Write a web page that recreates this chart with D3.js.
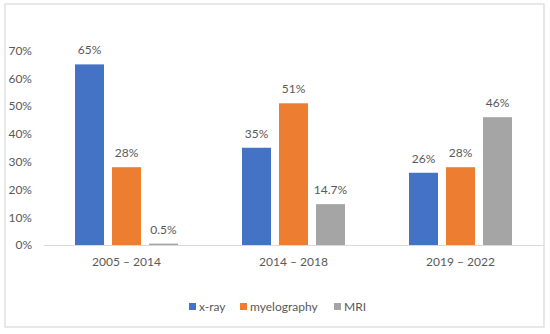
<!DOCTYPE html>
<html>
<head>
<meta charset="utf-8">
<script src="https://cdn.jsdelivr.net/npm/d3@7"></script>
<style>
  html, body { margin: 0; padding: 0; background: #fff; }
  svg text { font-family: Lato, "Open Sans", sans-serif; fill: #595959; }
</style>
</head>
<body>
<div id="chart"></div>
<script>
// grouped bar chart: imaging method share by period

var categories = ['2005 – 2014', '2014 – 2018', '2019 – 2022'];
var series = ['x-ray', 'myelography', 'MRI'];
var xray = [65, 35, 26];
var myelography = [28, 51, 28];
var mri = [0.5, 14.7, 46];
var valueLabels = [['65%', '35%', '26%'], ['28%', '51%', '28%'], ['0.5%', '14.7%', '46%']];
var yTicks = [0, 10, 20, 30, 40, 50, 60, 70];
var colors = ['#4472C4', '#ED7D31', '#A5A5A5'];

var values = [xray, myelography, mri];

var width = 550, height = 334;
var svg = d3.select('#chart').append('svg')
    .attr('width', width)
    .attr('height', height);

// chart border
svg.append('rect')
    .attr('x', 5).attr('y', 4)
    .attr('width', 539).attr('height', 323)
    .attr('fill', 'none')
    .attr('stroke', '#d9d9d9')
    .attr('stroke-width', 1.2);

var plotLeft = 43, plotRight = 544, plotTop = 50.5, plotBottom = 245;

var x0 = d3.scaleBand().domain(categories).range([plotLeft, plotRight]).padding(0);
var step = x0.step();
var groupW = 103;
var x1 = d3.scaleBand().domain(series)
    .range([(step - groupW) / 2, (step + groupW) / 2])
    .paddingInner(8 / 37).paddingOuter(0);
var y = d3.scaleLinear().domain([0, 70]).range([plotBottom, plotTop]);

// y axis labels, no line
var yAxis = svg.append('g')
    .attr('transform', 'translate(32,0)')
    .call(d3.axisLeft(y).tickValues(yTicks).tickSize(0).tickPadding(0)
        .tickFormat(function(d) { return d + '%'; }));
yAxis.select('.domain').remove();
yAxis.selectAll('text').style('font-size', '12px').attr('fill', '#595959');

// bars
series.forEach(function(s, i) {
    var g = svg.append('g');
    g.selectAll('rect')
        .data(values[i])
        .enter().append('rect')
        .attr('x', function(d, j) { return x0(categories[j]) + x1(s); })
        .attr('y', function(d) { return y(d); })
        .attr('width', x1.bandwidth())
        .attr('height', function(d) { return plotBottom - y(d); })
        .attr('fill', colors[i]);
    g.selectAll('text')
        .data(values[i])
        .enter().append('text')
        .attr('x', function(d, j) { return x0(categories[j]) + x1(s) + x1.bandwidth() / 2; })
        .attr('y', function(d) { return y(d) - 10; })
        .attr('text-anchor', 'middle')
        .style('font-size', '12px')
        .text(function(d, j) { return valueLabels[i][j]; });
});

// x axis line
var xAxis = svg.append('g')
    .attr('transform', 'translate(0,' + plotBottom + ')')
    .call(d3.axisBottom(x0).tickSize(0).tickPadding(12));
xAxis.select('.domain').attr('stroke', '#d9d9d9').attr('stroke-width', 1.2);
xAxis.selectAll('text').style('font-size', '12px').attr('fill', '#595959');

// legend
var legendX = [189, 240, 334];
var legend = svg.append('g');
series.forEach(function(s, i) {
    legend.append('rect')
        .attr('x', legendX[i]).attr('y', 303)
        .attr('width', 7).attr('height', 7)
        .attr('fill', colors[i]);
    legend.append('text')
        .attr('x', legendX[i] + 10).attr('y', 311)
        .style('font-size', '12px')
        .text(s);
});
</script>
</body>
</html>
